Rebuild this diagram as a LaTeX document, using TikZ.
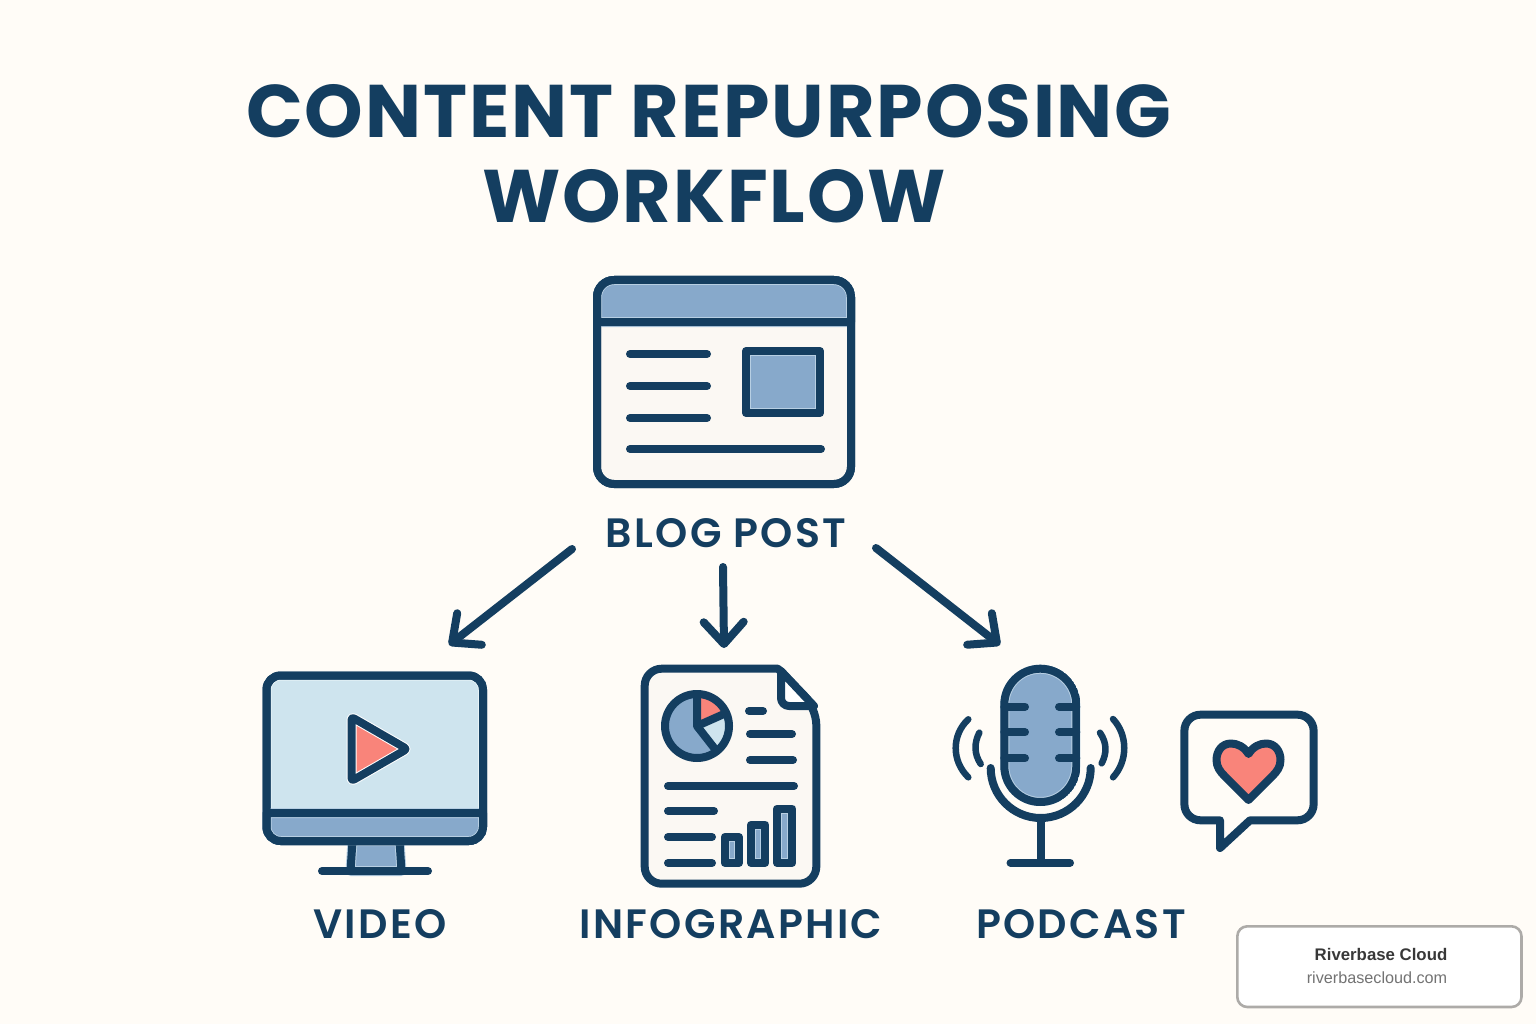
\documentclass[tikz,border=0pt]{standalone}
\usepackage{fontspec}
\setmainfont{Poppins}
\newfontfamily\headfont[LetterSpace = 2.5]{Poppins}
\newfontfamily\tagfont[LetterSpace = 5.5]{Poppins SemiBold}
\newfontfamily\markfont{Liberation Sans}
\usetikzlibrary{arrows.meta}

\definecolor{paper}{HTML}{FFFCF7}
\definecolor{pane}{HTML}{FBF8F3}
\definecolor{ink}{HTML}{143E60}
\definecolor{steel}{HTML}{87A9CB}
\definecolor{steelpale}{HTML}{B7CFE3}
\definecolor{sky}{HTML}{CEE4EE}
\definecolor{skypale}{HTML}{E6F2F6}
\definecolor{coral}{HTML}{F9847A}

\tikzset{
	iconline/.style = {draw = ink, line width = 8, line cap = round, line join = round},
	halofill/.style 2 args = {
		fill = #1,
		draw = #2,
		line width = 10,
		line join = round,
		postaction = {draw = ink, fill = none, line width = 8},
	},
	inlay/.style = {fill = steel, draw = steelpale, line width = 1},
	flow/.style = {
		draw = ink,
		line width = 8,
		line cap = round,
		-{Straight Barb[length = 22, width = 40, round]},
	},
	titletext/.style = {anchor = base, text = ink, font = \headfont\bfseries\fontsize{74.5}{74.5}\selectfont},
	labeltext/.style = {anchor = base, text = ink, font = \tagfont\fontsize{41}{41}\selectfont},
}

\begin{document}
\begin{tikzpicture}[x = 1pt, y = -1pt]

	\useasboundingbox[fill = paper] (0,0) rectangle (1536,1024);

	\node[titletext] (titleone) at (709,138) {CONTENT REPURPOSING};
	\node[titletext] (titletwo) at (714,223) {WORKFLOW};

	\draw[iconline, fill = pane, rounded corners = 17]
		(597,280) rectangle (851,484);
	\begin{scope}
		\clip[rounded corners = 21] (593,276) rectangle (855,488);
		\draw[halofill = {steel}{steelpale}]
			(597,322) -- (597,297) .. controls (597,287.6) and (604.6,280) .. (614,280)
			-- (834,280) .. controls (843.4,280) and (851,287.6) .. (851,297)
			-- (851,322) -- cycle;
	\end{scope}
	\draw[iconline, rounded corners = 17]
		(597,280) rectangle (851,484);
	\draw[iconline] (630,354) -- (707,354);
	\draw[iconline] (630,386) -- (707,386);
	\draw[iconline] (630,418) -- (707,418);
	\draw[iconline] (630,449) -- (821,449);
	\draw[iconline] (746,351) rectangle (820,413);
	\draw[inlay] (750.5,355.5) rectangle (815.5,408.5);

	\node[labeltext] (bloglabel) at (726,547) {BLOG POST};

	\coordinate (leftfoot) at (572,549);
	\coordinate (midfoot) at (723,567);
	\coordinate (rightfoot) at (876,548);
	\coordinate (videotip) at (449,645);
	\coordinate (graphictip) at (724,648);
	\coordinate (podcasttip) at (1000,645);
	\draw[flow] (leftfoot) -- (videotip);
	\draw[flow] (midfoot) -- (graphictip);
	\draw[flow] (rightfoot) -- (podcasttip);

	\draw[halofill = {steel}{steelpale}]
		(352.5,841) -- (350.5,871) -- (401.5,871) -- (399.5,841) -- cycle;
	\draw[iconline] (322,871) -- (428,871);
	\begin{scope}
		\clip[rounded corners = 18] (262.5,671.5) rectangle (487,845);
		\draw[halofill = {sky}{skypale}, rounded corners = 14]
			(266.5,675.5) rectangle (483,841);
		\draw[halofill = {steel}{steelpale}]
			(266.5,813) -- (266.5,827) .. controls (266.5,834.7) and (272.8,841) .. (280.5,841)
			-- (469,841) .. controls (476.7,841) and (483,834.7) .. (483,827)
			-- (483,813) -- cycle;
	\end{scope}
	\draw[iconline, rounded corners = 14]
		(266.5,675.5) rectangle (483,841);
	\draw[halofill = {coral}{white}, rounded corners = 3]
		(351.5,717) -- (407,749) -- (351.5,781) -- cycle;

	\node[labeltext] (videolabel) at (380,938) {VIDEO};

	\draw[iconline, fill = pane, rounded corners = 17]
		(778,668.7) -- (644.7,668.7) -- (644.7,883.7) -- (816.3,883.7) -- (816.3,708) [sharp corners] -- cycle;
	\draw[iconline, fill = white, rounded corners = 8]
		(781,671) -- (781,706) [sharp corners] -- (814,706) -- cycle;
	\begin{scope}[shift = {(697,726)}, yscale = -1]
		\fill[steel] (0,0) circle (32);
		\fill[coral] (0,0) -- (90:32) arc (90:24:32) -- cycle;
		\fill[sky] (0,0) -- (24:32) arc (24:-52:32) -- cycle;
		\draw[iconline] (0,0) circle (32);
		\draw[iconline] (90:32) -- (0,0) -- (24:32);
		\draw[iconline] (0,0) -- (-52:32);
	\end{scope}
	\draw[iconline] (749,711) -- (763,711);
	\draw[iconline] (750,734) -- (792,734);
	\draw[iconline] (750,760) -- (793,760);
	\draw[iconline] (668,786) -- (794,786);
	\draw[iconline] (668,811) -- (714,811);
	\draw[iconline] (668,837) -- (712,837);
	\draw[iconline] (668,863) -- (712,863);
	\foreach \barleft/\barright/\bartop in {724.7/739/837, 751/765.3/824.7, 777/792.3/808.7} {
		\draw[iconline] (\barleft,\bartop) rectangle (\barright,863);
		\draw[inlay] ([xshift = 4.5, yshift = -4.5]\barleft,\bartop) rectangle ([xshift = -4.5]\barright,858.5);
	}

	\node[labeltext] (graphiclabel) at (731,938) {INFOGRAPHIC};

	\begin{scope}
		\clip[rounded corners = 39.9] (1000.3,664.7) rectangle (1080.3,806);
		\draw[halofill = {steel}{steelpale}, rounded corners = 35.9]
			(1004.3,668.7) rectangle (1076.3,802);
	\end{scope}
	\foreach \ticky in {706.7, 732.3, 758.3} {
		\draw[iconline] (1004.3,\ticky) -- (1025,\ticky);
		\draw[iconline] (1059,\ticky) -- (1076.3,\ticky);
	}
	\begin{scope}[shift = {(1040.7,768)}, yscale = -1]
		\draw[iconline] (180:50) arc (180:360:50);
	\end{scope}
	\draw[iconline] (1041,818) -- (1041,862.7);
	\draw[iconline] (1010.5,862.7) -- (1070,862.7);
	\draw[iconline, line width = 6.5]
		(968.3,719.3) .. controls (951.5,735) and (951.5,761) .. (968.3,777.3);
	\draw[iconline, line width = 6.5]
		(979.3,732.7) .. controls (974,743) and (974,754) .. (980.7,764);
	\draw[iconline, line width = 6.5]
		(1113,719) .. controls (1128,735) and (1128,761) .. (1113,777.3);
	\draw[iconline, line width = 6.5]
		(1100,732.7) .. controls (1107,743) and (1107,753) .. (1101.7,763.3);

	\node[labeltext] (podcastlabel) at (1081,938) {PODCAST};

	\draw[iconline]
		(1250,820.3) -- (1297.6,820.3) .. controls (1306.4,820.3) and (1313.6,813.1) .. (1313.6,804.3)
		-- (1313.6,730.7) .. controls (1313.6,721.9) and (1306.4,714.7) .. (1297.6,714.7)
		-- (1200.4,714.7) .. controls (1191.6,714.7) and (1184.4,721.9) .. (1184.4,730.7)
		-- (1184.4,804.3) .. controls (1184.4,813.1) and (1191.6,820.3) .. (1200.4,820.3)
		-- (1220,820.3) -- (1220,848) -- cycle;
	\draw[iconline, fill = coral]
		(1248.5,754) .. controls (1244,746.5) and (1237,743.5) .. (1231,743.5)
		.. controls (1222,743.5) and (1216.5,751) .. (1216.5,760)
		.. controls (1216.5,767) and (1220,771.5) .. (1225,776.5)
		-- (1248.5,800) -- (1272,776.5)
		.. controls (1277,771.5) and (1280.5,767) .. (1280.5,760)
		.. controls (1280.5,751) and (1275,743.5) .. (1266,743.5)
		.. controls (1260,743.5) and (1253,746.5) .. (1248.5,754) -- cycle;

	\draw[draw = black!32!paper, fill = white, line width = 2.6, rounded corners = 10]
		(1237.3,926.3) rectangle (1521.5,1007);
	\node[anchor = base, text = black!78, font = \markfont\bfseries\fontsize{16.8}{16.8}\selectfont]
		(brandname) at (1381,960) {Riverbase Cloud};
	\node[anchor = base, text = black!55, font = \markfont\fontsize{16.2}{16.2}\selectfont]
		(brandsite) at (1377,983) {riverbasecloud.com};

\end{tikzpicture}
\end{document}
